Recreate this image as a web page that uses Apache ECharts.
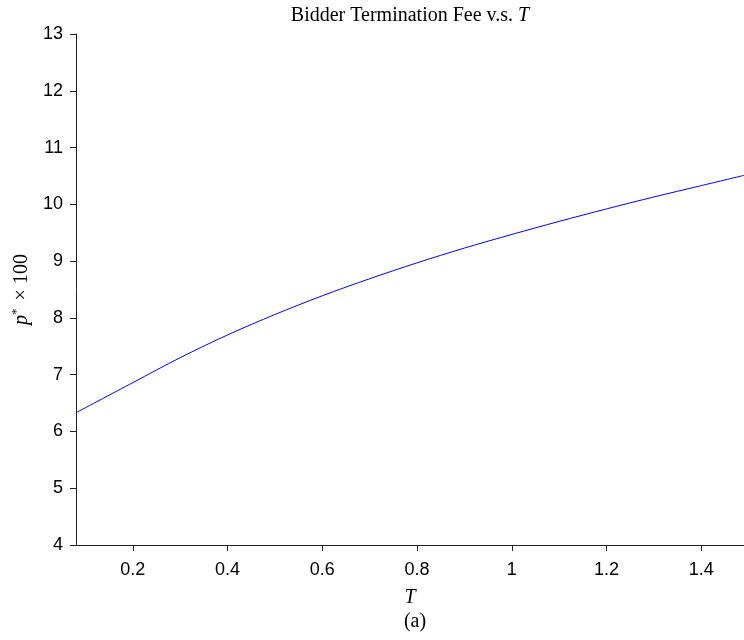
<!DOCTYPE html>
<html>
<head>
<meta charset="utf-8">
<script src="https://cdn.jsdelivr.net/npm/echarts@6/dist/echarts.min.js"></script>
<style>
  html, body { margin: 0; padding: 0; background: #fff; }
  #main { width: 744px; height: 640px; }
</style>
</head>
<body>
<div id="main"></div>
<script>
// values
var tValues = [0.08, 0.2, 0.3, 0.4, 0.5, 0.6, 0.7, 0.8, 0.9, 1.0, 1.1, 1.2, 1.3, 1.4, 1.49];
var feeValues = [6.33, 6.86, 7.30, 7.70, 8.06, 8.39, 8.69, 8.97, 9.23, 9.47, 9.70, 9.92, 10.13, 10.33, 10.51];
var xTicks = [0.2, 0.4, 0.6, 0.8, 1, 1.2, 1.4];

var points = tValues.map(function (t, i) { return [t, feeValues[i]]; });

var serif = '"Liberation Serif", "DejaVu Serif", serif';
var sans = '"Liberation Sans", Arial, sans-serif';

var chart = echarts.init(document.getElementById('main'));
chart.setOption({
    animation: false,
    title: [
        {
            text: 'Bidder Termination Fee v.s. {i|T}',
            left: 405,
            top: 1,
            textAlign: 'center',
            textStyle: {
                fontFamily: serif, fontSize: 20, fontWeight: 'normal', color: '#000',
                rich: { i: { fontFamily: serif, fontSize: 20, fontStyle: 'italic', color: '#000' } }
            }
        },
        {
            text: '(a)',
            left: 410,
            top: 607,
            textAlign: 'center',
            textStyle: { fontFamily: serif, fontSize: 20, fontWeight: 'normal', color: '#000' }
        }
    ],
    grid: { left: 76, right: 0, top: 34, bottom: 95, outerBoundsMode: 'none', containLabel: false },
    xAxis: {
        type: 'value',
        min: 0.08,
        max: 1.49,
        name: 'T',
        nameLocation: 'middle',
        nameGap: 43,
        nameTextStyle: { fontFamily: serif, fontSize: 20, fontStyle: 'italic', color: '#000' },
        splitLine: { show: false },
        axisLine: { show: true, lineStyle: { color: '#222', width: 1 } },
        axisTick: { show: true, length: 6, customValues: xTicks, lineStyle: { color: '#222' } },
        axisLabel: {
            customValues: xTicks,
            margin: 16,
            fontFamily: sans, fontSize: 18, color: '#000'
        }
    },
    yAxis: {
        type: 'value',
        min: 4,
        max: 13,
        interval: 1,
        name: '{p|p}{s|*} × 100',
        nameLocation: 'middle',
        nameGap: 43,
        nameRotate: 90,
        nameTextStyle: {
            fontFamily: serif, fontSize: 20, color: '#000',
            rich: {
                p: { fontFamily: serif, fontSize: 20, fontStyle: 'italic', color: '#000' },
                s: { fontFamily: serif, fontSize: 13, color: '#000', verticalAlign: 'top', padding: [0, 3, 10, 0] }
            }
        },
        splitLine: { show: false },
        axisLine: { show: true, lineStyle: { color: '#222', width: 1 } },
        axisTick: { show: true, length: 6, lineStyle: { color: '#222' } },
        axisLabel: { margin: 13, fontFamily: sans, fontSize: 18, color: '#000' }
    },
    series: [
        {
            type: 'line',
            data: points,
            smooth: 0.3,
            showSymbol: false,
            lineStyle: { color: '#0000ff', width: 1 },
            itemStyle: { color: '#0000ff' }
        }
    ]
});
</script>
</body>
</html>
